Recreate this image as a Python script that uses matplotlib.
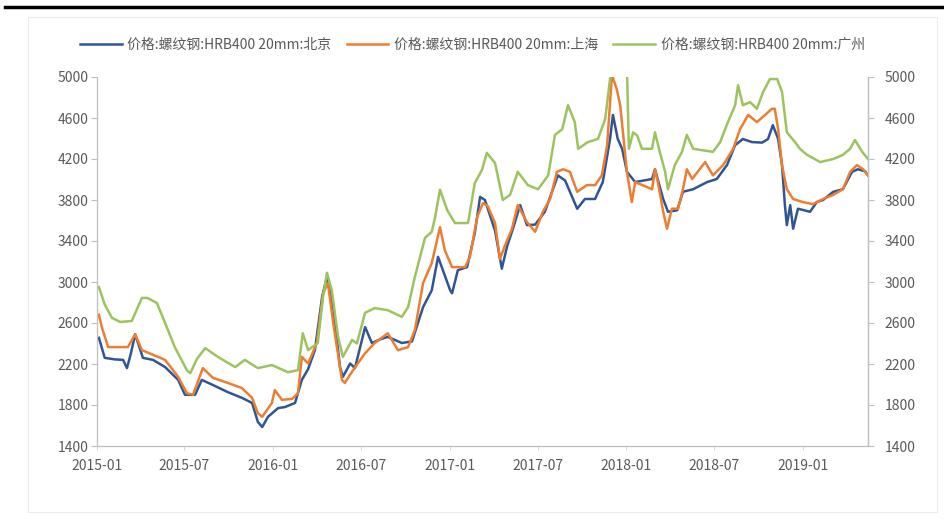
import matplotlib
matplotlib.use("Agg")
import matplotlib.pyplot as plt
from matplotlib.lines import Line2D
from matplotlib.patches import Rectangle
import pandas as pd

plt.rcParams['font.family'] = ['Noto Sans CJK SC', 'DejaVu Sans']

series_names = ["价格:螺纹钢:HRB400 20mm:北京",
                "价格:螺纹钢:HRB400 20mm:上海",
                "价格:螺纹钢:HRB400 20mm:广州"]

bj_dates = ["2015-01-05", "2015-01-17", "2015-02-07", "2015-02-24", "2015-03-04", "2015-03-12",
            "2015-03-21", "2015-04-06", "2015-04-27", "2015-05-22", "2015-06-18", "2015-07-02",
            "2015-07-23", "2015-08-06", "2015-08-29", "2015-09-29", "2015-10-28", "2015-11-18",
            "2015-11-30", "2015-12-09", "2015-12-21", "2016-01-11", "2016-01-25", "2016-02-15",
            "2016-02-29", "2016-03-13", "2016-03-27", "2016-04-11", "2016-04-21", "2016-05-04",
            "2016-05-18", "2016-05-24", "2016-06-08", "2016-06-18", "2016-07-09", "2016-07-23",
            "2016-08-09", "2016-08-25", "2016-09-23", "2016-10-14", "2016-11-06", "2016-11-24",
            "2016-12-07", "2016-12-17", "2017-01-01", "2017-01-05", "2017-01-17", "2017-02-05",
            "2017-02-21", "2017-03-04", "2017-03-14", "2017-04-04", "2017-04-18", "2017-04-29",
            "2017-05-11", "2017-05-26", "2017-06-09", "2017-06-26", "2017-07-16", "2017-07-31",
            "2017-08-12", "2017-08-27", "2017-09-21", "2017-10-07", "2017-10-28", "2017-11-13",
            "2017-11-28", "2017-12-04", "2017-12-14", "2017-12-23", "2018-01-02", "2018-01-19",
            "2018-02-23", "2018-03-01", "2018-03-18", "2018-03-28", "2018-04-16", "2018-04-28",
            "2018-05-19", "2018-06-17", "2018-07-07", "2018-07-28", "2018-08-14", "2018-08-30",
            "2018-09-18", "2018-10-09", "2018-10-21", "2018-10-31", "2018-11-11", "2018-11-19",
            "2018-11-25", "2018-11-29", "2018-12-06", "2018-12-12", "2018-12-22", "2019-01-16",
            "2019-01-30", "2019-02-12", "2019-03-05", "2019-03-25", "2019-04-13", "2019-04-25",
            "2019-05-10", "2019-05-16"]
bj_values = [2455, 2260, 2245, 2240, 2160, 2300,
             2490, 2260, 2240, 2170, 2045, 1900,
             1900, 2045, 1995, 1925, 1870, 1820,
             1635, 1585, 1685, 1770, 1780, 1820,
             2045, 2150, 2335, 2855, 3050, 2750,
             2170, 2075, 2205, 2160, 2560, 2405,
             2440, 2465, 2405, 2420, 2755, 2920,
             3245, 3115, 2920, 2890, 3115, 3145,
             3475, 3830, 3800, 3500, 3130, 3350,
             3520, 3750, 3555, 3560, 3685, 3880,
             4040, 3990, 3715, 3810, 3810, 3975,
             4395, 4630, 4395, 4300, 4075, 3975,
             4005, 4100, 3810, 3685, 3700, 3880,
             3905, 3975, 4005, 4140, 4335, 4395,
             4365, 4360, 4395, 4530, 4395, 4140,
             3750, 3555, 3750, 3520, 3715, 3685,
             3780, 3800, 3880, 3905, 4075, 4100,
             4080, 4040]

sh_dates = ["2015-01-05", "2015-01-11", "2015-01-24", "2015-03-06", "2015-03-21", "2015-04-04",
            "2015-04-27", "2015-05-22", "2015-06-18", "2015-07-06", "2015-07-19", "2015-08-08",
            "2015-08-29", "2015-09-29", "2015-10-28", "2015-11-18", "2015-11-30", "2015-12-09",
            "2015-12-29", "2016-01-04", "2016-01-19", "2016-02-09", "2016-02-21", "2016-02-29",
            "2016-03-13", "2016-03-31", "2016-04-13", "2016-04-23", "2016-05-04", "2016-05-22",
            "2016-05-28", "2016-06-14", "2016-07-09", "2016-07-29", "2016-08-25", "2016-09-15",
            "2016-10-06", "2016-10-20", "2016-11-06", "2016-11-24", "2016-12-11", "2016-12-21",
            "2017-01-05", "2017-02-01", "2017-02-11", "2017-02-26", "2017-03-10", "2017-03-20",
            "2017-04-04", "2017-04-14", "2017-04-25", "2017-05-09", "2017-05-21", "2017-06-09",
            "2017-06-26", "2017-07-12", "2017-07-27", "2017-08-10", "2017-08-23", "2017-09-06",
            "2017-09-21", "2017-10-11", "2017-10-28", "2017-11-11", "2017-11-22", "2017-12-02",
            "2017-12-12", "2017-12-19", "2018-01-02", "2018-01-12", "2018-01-19", "2018-02-23",
            "2018-03-01", "2018-03-07", "2018-03-18", "2018-03-26", "2018-04-05", "2018-04-18",
            "2018-04-28", "2018-05-06", "2018-05-17", "2018-06-13", "2018-06-29", "2018-07-20",
            "2018-08-10", "2018-08-24", "2018-09-10", "2018-09-28", "2018-10-15", "2018-10-29",
            "2018-11-04", "2018-11-11", "2018-11-19", "2018-11-29", "2018-12-12", "2019-01-01",
            "2019-01-22", "2019-02-12", "2019-03-05", "2019-03-25", "2019-04-09", "2019-04-23",
            "2019-05-06", "2019-05-16"]
sh_values = [2680, 2560, 2365, 2365, 2490, 2335,
             2290, 2240, 2075, 1915, 1900, 2160,
             2065, 2015, 1965, 1870, 1720, 1685,
             1820, 1945, 1850, 1860, 1915, 2270,
             2205, 2405, 2890, 2990, 2600, 2045,
             2015, 2140, 2305, 2405, 2500, 2335,
             2365, 2530, 2990, 3185, 3535, 3310,
             3145, 3145, 3245, 3635, 3770, 3740,
             3575, 3225, 3360, 3520, 3750, 3585,
             3490, 3685, 3810, 4075, 4100, 4075,
             3880, 3945, 3945, 4040, 4335, 5020,
             4880, 4725, 4075, 3780, 3975, 3905,
             4100, 3975, 3685, 3520, 3715, 3715,
             3905, 4100, 4005, 4170, 4040, 4140,
             4300, 4490, 4630, 4560, 4630, 4690,
             4690, 4490, 4140, 3905, 3810, 3780,
             3760, 3810, 3850, 3905, 4075, 4140,
             4100, 4040]

gz_dates = ["2015-01-05", "2015-01-17", "2015-02-01", "2015-02-18", "2015-03-14", "2015-04-04",
            "2015-04-15", "2015-05-05", "2015-05-22", "2015-06-11", "2015-07-06", "2015-07-13",
            "2015-07-27", "2015-08-13", "2015-09-08", "2015-10-14", "2015-11-03", "2015-11-30",
            "2015-12-29", "2016-01-31", "2016-02-21", "2016-03-02", "2016-03-13", "2016-04-02",
            "2016-04-13", "2016-04-21", "2016-05-01", "2016-05-14", "2016-05-24", "2016-06-12",
            "2016-06-22", "2016-07-09", "2016-07-29", "2016-08-25", "2016-09-23", "2016-10-06",
            "2016-10-20", "2016-11-10", "2016-11-24", "2016-12-01", "2016-12-11", "2016-12-26",
            "2017-01-11", "2017-02-07", "2017-02-21", "2017-03-08", "2017-03-18", "2017-04-04",
            "2017-04-20", "2017-05-05", "2017-05-21", "2017-06-11", "2017-07-02", "2017-07-23",
            "2017-08-06", "2017-08-21", "2017-09-02", "2017-09-16", "2017-09-23", "2017-10-13",
            "2017-11-03", "2017-11-18", "2017-11-28", "2017-12-08", "2017-12-23", "2018-01-02",
            "2018-01-06", "2018-01-15", "2018-01-23", "2018-02-02", "2018-02-23", "2018-03-01",
            "2018-03-11", "2018-03-22", "2018-03-28", "2018-04-11", "2018-04-26", "2018-05-06",
            "2018-05-19", "2018-06-08", "2018-06-29", "2018-07-14", "2018-07-30", "2018-08-14",
            "2018-08-20", "2018-08-30", "2018-09-14", "2018-09-28", "2018-10-11", "2018-10-25",
            "2018-11-09", "2018-11-19", "2018-11-29", "2018-12-16", "2018-12-26", "2019-01-10",
            "2019-02-06", "2019-03-05", "2019-03-25", "2019-04-09", "2019-04-19", "2019-05-04",
            "2019-05-16"]
gz_values = [2950, 2780, 2650, 2610, 2620, 2845,
             2845, 2795, 2600, 2365, 2140, 2110,
             2250, 2355, 2270, 2170, 2240, 2160,
             2190, 2120, 2140, 2500, 2335, 2405,
             2855, 3090, 2920, 2465, 2270, 2435,
             2400, 2700, 2745, 2725, 2660, 2755,
             3050, 3430, 3490, 3635, 3900, 3700,
             3575, 3575, 3965, 4095, 4260, 4160,
             3800, 3850, 4075, 3945, 3905, 4040,
             4435, 4490, 4725, 4560, 4300, 4365,
             4395, 4590, 4980, 5150, 5200, 5100,
             4300, 4460, 4430, 4300, 4300, 4460,
             4270, 4075, 3905, 4140, 4270, 4435,
             4300, 4285, 4270, 4365, 4560, 4725,
             4920, 4725, 4755, 4690, 4855, 4980,
             4980, 4855, 4460, 4365, 4300, 4240,
             4170, 4200, 4240, 4300, 4385, 4270,
             4200]

y_ticks = [1400, 1800, 2200, 2600, 3000, 3400, 3800, 4200, 4600, 5000]
x_ticks = ["2015-01", "2015-07", "2016-01", "2016-07", "2017-01",
           "2017-07", "2018-01", "2018-07", "2019-01"]

colors = ["#2f5597", "#ed7d31", "#9dc35e"]
text_color = "#595959"

fig = plt.figure(figsize=(9.45, 5.23), dpi=100)
ax = fig.add_axes([97 / 945, 1 - 446 / 523, (868 - 97) / 945, (446 - 77) / 523])

all_series = [(bj_dates, bj_values), (sh_dates, sh_values), (gz_dates, gz_values)]
handles = []
for (d, v), c, name in zip(all_series, colors, series_names):
    h, = ax.plot(pd.to_datetime(d), v, color=c, lw=1.8, label=name, solid_joinstyle='round')
    handles.append(h)

ax.set_ylim(1400, 5000)
ax.set_xlim(pd.Timestamp("2015-01-01"), pd.Timestamp("2019-05-16"))
ax.set_yticks(y_ticks)
ax.set_yticklabels([str(t) for t in y_ticks])
ax.set_xticks(pd.to_datetime([t + "-01" for t in x_ticks]))
ax.set_xticklabels(x_ticks)

ax.spines["top"].set_visible(False)
for s in ["left", "bottom", "right"]:
    ax.spines[s].set_color("#bfbfbf")
    ax.spines[s].set_linewidth(0.9)
ax.tick_params(axis='y', length=4, width=0.8, color="#bfbfbf", labelsize=10,
               labelcolor=text_color, pad=2)
ax.tick_params(axis='x', length=3, width=0.8, color="#d9d9d9", labelsize=10,
               labelcolor=text_color, pad=6)

ax2 = ax.twinx()
ax2.set_ylim(1400, 5000)
ax2.set_yticks(y_ticks)
ax2.set_yticklabels([str(t) for t in y_ticks])
for s in ["top", "left", "bottom"]:
    ax2.spines[s].set_visible(False)
ax2.spines["right"].set_color("#bfbfbf")
ax2.spines["right"].set_linewidth(0.9)
ax2.tick_params(axis='y', length=4, width=0.8, color="#bfbfbf", labelsize=10,
                labelcolor=text_color, pad=8)

leg = fig.legend(handles=handles, labels=series_names, loc="center", ncol=3,
                 bbox_to_anchor=(0.50, 1 - 45 / 523), frameon=False,
                 fontsize=10, handlelength=3.0, columnspacing=1.1, handletextpad=0.4,
                 labelcolor=text_color)

# top black rule and faint outer frame
fig.add_artist(Line2D([5 / 945, 1.0], [1 - 7 / 523, 1 - 7 / 523], color="black", lw=2.5,
                      transform=fig.transFigure))
fig.add_artist(Rectangle((28 / 945, 1 - 512 / 523), (937 - 28) / 945, (512 - 17) / 523,
                         fill=False, edgecolor="#ececec", lw=0.8, transform=fig.transFigure))

fig.savefig("out.png", dpi=100)
